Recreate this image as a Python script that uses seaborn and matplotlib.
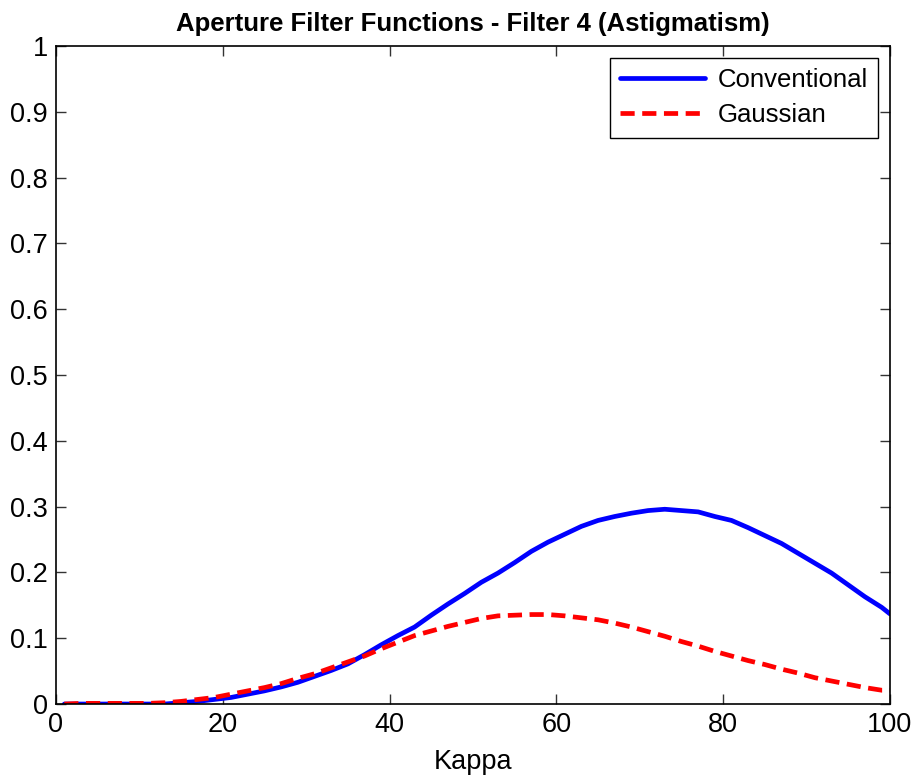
import numpy as np
import pandas as pd
import matplotlib
matplotlib.use("Agg")
import matplotlib.pyplot as plt
import seaborn as sns

# kappa sample positions
kappa = [1, 3, 5, 7, 9, 11, 13, 15, 17, 19, 21, 23, 25, 27, 29, 31, 33, 35, 37, 39,
         41, 43, 45, 47, 49, 51, 53, 55, 57, 59, 61, 63, 65, 67, 69, 71, 73, 75, 77, 79,
         81, 83, 85, 87, 89, 91, 93, 95, 97, 99, 100]

conventional = [0, 0, 0, 0, 0, 0, 0, 0.002, 0.004, 0.007, 0.010, 0.015, 0.020, 0.026,
                0.033, 0.042, 0.051, 0.061, 0.075, 0.090, 0.104, 0.117, 0.135, 0.152,
                0.168, 0.185, 0.199, 0.215, 0.232, 0.246, 0.258, 0.270, 0.279, 0.285,
                0.290, 0.294, 0.296, 0.294, 0.292, 0.285, 0.279, 0.268, 0.256, 0.244,
                0.229, 0.214, 0.199, 0.181, 0.163, 0.147, 0.137]

gaussian = [0, 0.001, 0.001, 0.001, 0.001, 0.001, 0.002, 0.004, 0.007, 0.010, 0.015,
            0.020, 0.025, 0.031, 0.039, 0.046, 0.055, 0.064, 0.073, 0.084, 0.094, 0.104,
            0.111, 0.118, 0.124, 0.130, 0.134, 0.135, 0.136, 0.136, 0.134, 0.131, 0.128,
            0.123, 0.117, 0.110, 0.103, 0.095, 0.088, 0.080, 0.073, 0.066, 0.060, 0.053,
            0.047, 0.040, 0.035, 0.030, 0.025, 0.021, 0.021]

sns.set_style("white")
plt.rcParams['font.family'] = ['Liberation Sans', 'DejaVu Sans']
plt.rcParams['text.color'] = 'black'
plt.rcParams['axes.labelcolor'] = 'black'
plt.rcParams['xtick.color'] = 'black'
plt.rcParams['ytick.color'] = 'black'

fig = plt.figure(figsize=(9.19, 7.82), dpi=100)
ax = fig.add_axes([0.0609, 0.0997, 0.9075, 0.8415])

df = pd.DataFrame({'kappa': kappa, 'conv': conventional, 'gauss': gaussian})
sns.lineplot(data=df, x='kappa', y='conv', ax=ax, color='#0000ff', lw=3.4,
             label='Conventional')
sns.lineplot(data=df, x='kappa', y='gauss', ax=ax, color='#ff0000', lw=3.4,
             label='Gaussian')
ax.lines[1].set_dashes([3.0, 1.6])

ax.set_xlim(0, 100)
ax.set_ylim(0, 1)
ax.set_xticks(np.arange(0, 101, 20))
ax.set_yticks(np.arange(0, 1.01, 0.1))
ax.set_yticklabels(['0', '0.1', '0.2', '0.3', '0.4', '0.5', '0.6', '0.7', '0.8', '0.9', '1'])
ax.tick_params(direction='in', length=7, width=1, labelsize=19.5, top=True, right=True,
               bottom=True, left=True, pad=6, color='#333333', labelcolor='black')
for s in ax.spines.values():
    s.set_visible(True)
    s.set_color('black')
    s.set_linewidth(1.2)

ax.set_xlabel('Kappa', fontsize=19.5, labelpad=8)
ax.set_ylabel('')
ax.set_title('Aperture Filter Functions - Filter 4 (Astigmatism)', fontsize=18.5,
             fontweight='bold', pad=11)

leg = ax.legend(loc='upper right', fontsize=18.5, frameon=True, fancybox=False,
                framealpha=1, edgecolor='black', borderaxespad=0.45, handlelength=3.3,
                handletextpad=0.5, borderpad=0.4, labelspacing=0.45)
leg.get_frame().set_linewidth(1.0)

fig.savefig('out.png', dpi=100)
